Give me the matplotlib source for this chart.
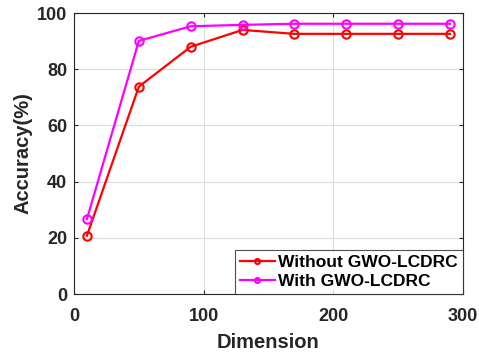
import matplotlib
matplotlib.use('Agg')
import matplotlib.pyplot as plt

# data
dimension = [10, 50, 90, 130, 170, 210, 250, 290]
acc_without = [20.8, 73.8, 88.0, 94.0, 92.6, 92.6, 92.6, 92.6]
acc_with = [26.7, 90.1, 95.3, 95.8, 96.2, 96.2, 96.2, 96.2]

plt.rcParams['font.family'] = ['Liberation Sans', 'DejaVu Sans']
plt.rcParams['font.weight'] = 'bold'

fig = plt.figure(figsize=(4.79, 3.53), dpi=100)
ax = fig.add_axes([0.1545, 0.167, 0.812, 0.796])

ax.plot(dimension, acc_without, color='#ff0000', linewidth=1.6, marker='o',
        markersize=6, markerfacecolor='none', markeredgewidth=1.5,
        label='Without GWO-LCDRC')
ax.plot(dimension, acc_with, color='#ff00ff', linewidth=1.6, marker='o',
        markersize=6, markerfacecolor='none', markeredgewidth=1.5,
        label='With GWO-LCDRC')

ax.set_xlim(0, 300)
ax.set_ylim(0, 100)
ax.set_xticks([0, 100, 200, 300])
ax.set_yticks([0, 20, 40, 60, 80, 100])
ax.grid(True, color='#dcdcdc', linewidth=0.8)
ax.set_axisbelow(True)

ax.tick_params(direction='in', top=True, right=True, length=3, width=0.8,
               labelsize=13, colors='#262626')
ax.tick_params(axis='x', pad=10)
ax.tick_params(axis='y', pad=5)
for lbl in ax.get_xticklabels() + ax.get_yticklabels():
    lbl.set_fontweight('bold')
for s in ax.spines.values():
    s.set_color('#262626')
    s.set_linewidth(0.8)

ax.set_xlabel('Dimension', fontsize=14.5, fontweight='bold', color='#262626', labelpad=6)
ax.set_ylabel('Accuracy(%)', fontsize=14.5, fontweight='bold', color='#262626', labelpad=3)

leg = ax.legend(loc='lower right', fontsize=12.5, frameon=True, fancybox=False,
                borderaxespad=0, handlelength=2.0, handletextpad=0.2,
                borderpad=0.3, labelspacing=0.2, markerscale=0.6)
leg.get_frame().set_edgecolor('#262626')
leg.get_frame().set_linewidth(0.8)
for t in leg.get_texts():
    t.set_fontweight('bold')

fig.savefig('out.png', dpi=100)
